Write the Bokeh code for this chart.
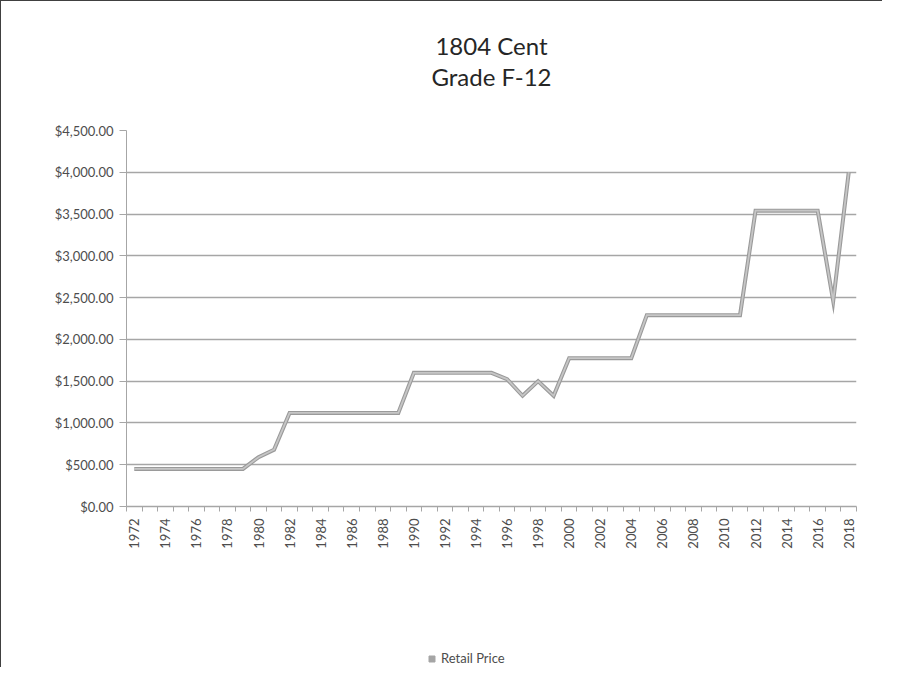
from bokeh.plotting import figure
from bokeh.layouts import column
from bokeh.models import (FixedTicker, NumeralTickFormatter, Title, Legend, LegendItem,
                          Range1d, ColumnDataSource)
from bokeh.embed import file_html
from bokeh.resources import INLINE
import math

# ---- data ----
years = list(range(1972, 2019))
prices = [450, 450, 450, 450, 450, 450, 450, 450,          # 1972-1979
          590, 680,                                         # 1980-1981
          1120, 1120, 1120, 1120, 1120, 1120, 1120, 1120,   # 1982-1989
          1600, 1600, 1600, 1600, 1600, 1600,               # 1990-1995
          1525, 1325, 1500, 1325,                           # 1996-1999
          1775, 1775, 1775, 1775, 1775,                     # 2000-2004
          2290, 2290, 2290, 2290, 2290, 2290, 2290,         # 2005-2011
          3540, 3540, 3540, 3540, 3540,                     # 2012-2016
          2460, 4000]                                       # 2017-2018
y_ticks = [0, 500, 1000, 1500, 2000, 2500, 3000, 3500, 4000, 4500]
label_years = years[::2]
title_lines = ["1804 Cent", "Grade F-12"]
series_name = "Retail Price"

FONT = "Lato"
TXT = "#4d4d4d"
GRID = "#a6a6a6"
LINE = "#a5a5a5"

src = ColumnDataSource(data=dict(year=years, price=prices))

p = figure(width=881, height=646, output_backend="svg", toolbar_location=None,
           x_range=Range1d(1971.5, 2018.5), y_range=Range1d(0, 4500),
           min_border_left=125, min_border_right=26, min_border_top=129,
           min_border_bottom=141, background_fill_color="white",
           border_fill_color="white")
p.outline_line_color = None

# titles (items added to a side panel stack outward from the plot frame)
p.add_layout(Title(text=" ", text_font_size="34px", standoff=0), "above")
p.add_layout(Title(text=title_lines[1], align="center", text_font=FONT,
                   text_font_size="24px", text_font_style="normal",
                   text_color="#262626", standoff=0), "above")
p.add_layout(Title(text=title_lines[0], align="center", text_font=FONT,
                   text_font_size="24px", text_font_style="normal",
                   text_color="#262626", standoff=0), "above")

# y axis
p.yaxis.ticker = FixedTicker(ticks=y_ticks, minor_ticks=[])
p.yaxis.formatter = NumeralTickFormatter(format="$0,0.00")
p.yaxis.axis_line_color = GRID
p.yaxis.major_tick_line_color = GRID
p.yaxis.major_tick_out = 7
p.yaxis.major_tick_in = 0
p.yaxis.major_label_text_font = FONT
p.yaxis.major_label_text_font_size = "13px"
p.yaxis.major_label_text_color = TXT
p.yaxis.major_label_standoff = 6

# x axis: labels every 2 years, tick marks between categories
p.xaxis.ticker = FixedTicker(ticks=label_years,
                             minor_ticks=[y - 0.5 for y in years] + [years[-1] + 0.5])
p.xaxis.major_tick_line_color = None
p.xaxis.minor_tick_line_color = GRID
p.xaxis.minor_tick_out = 5
p.xaxis.minor_tick_in = 0
p.xaxis.axis_line_color = GRID
p.xaxis.axis_line_width = 1.5
p.xaxis.major_label_orientation = math.pi / 2
p.xaxis.major_label_text_font = FONT
p.xaxis.major_label_text_font_size = "13px"
p.xaxis.major_label_text_color = TXT
p.xaxis.major_label_standoff = 6

p.xgrid.grid_line_color = None
p.ygrid.ticker = FixedTicker(ticks=y_ticks)
p.ygrid.grid_line_color = GRID
p.ygrid.grid_line_width = 1.5

# data line (ribbon look: darker edge + lighter face)
p.line("year", "price", source=src, line_color="#9a9a9a", line_width=4,
       line_join="miter")
p.line("year", "price", source=src, line_color="#c6c6c6", line_width=1.8,
       line_join="miter")

# ---- legend strip below the chart ----
leg = figure(width=881, height=20, output_backend="svg", toolbar_location=None,
             x_range=Range1d(0, 1), y_range=Range1d(0, 1),
             min_border=0, background_fill_color="white", border_fill_color="white")
leg.outline_line_color = None
leg.axis.visible = False
leg.grid.visible = False
# legend swatch renderer: same series, its points fall outside this strip's ranges
proxy = leg.scatter(x="year", y="price", source=src, marker="square", size=14,
                    fill_color=LINE, line_color=LINE)
legend = Legend(items=[LegendItem(label=series_name, renderers=[proxy])],
                location=(298, 1), orientation="horizontal",
                label_text_font=FONT, label_text_font_size="13px",
                label_text_color=TXT, glyph_width=15, glyph_height=15,
                border_line_color=None, background_fill_alpha=0,
                margin=0, padding=0, label_standoff=2)
leg.add_layout(legend, "center")

layout = column(p, leg, spacing=0,
                styles={"border-left": "1px solid #404040",
                        "border-top": "1px solid #404040"})
open("out.html", "w").write(file_html(layout, INLINE))
